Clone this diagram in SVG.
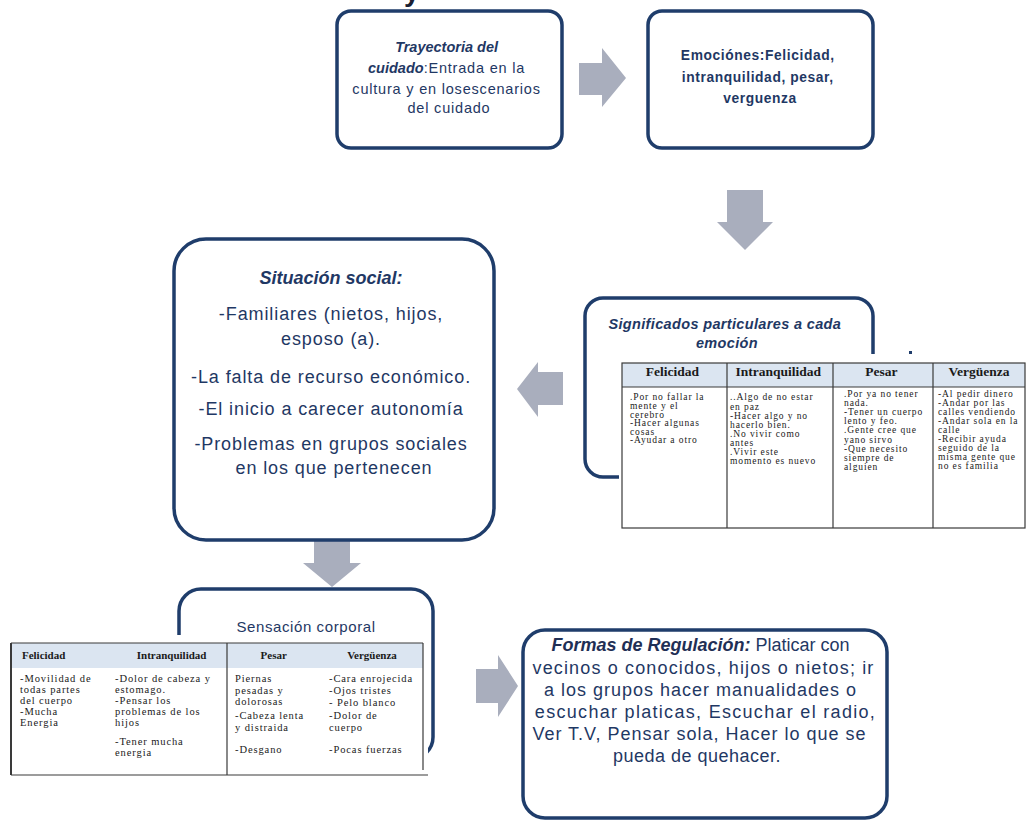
<svg xmlns="http://www.w3.org/2000/svg" width="1027" height="820" viewBox="0 0 1027 820">
  <style>
    .box { fill: #ffffff; stroke: #1f3d6b; stroke-width: 3.5; }
    .arrow { fill: #a9aebd; }
    .txt { font-family: "Liberation Sans", Arial, sans-serif; fill: #1f3864; }
    .bi { font-weight: bold; font-style: italic; letter-spacing: 0; }
    .b { font-weight: bold; }
    .tbl { fill: #ffffff; }
    .grid { stroke: #3a3a3a; stroke-width: 1.2; fill: none; }
    .head { fill: #dbe5f1; }
    .th { font-family: "Liberation Serif", "Times New Roman", serif; font-weight: bold; fill: #1a1a1a; text-anchor: middle; }
    .td { font-family: "Liberation Serif", "Times New Roman", serif; fill: #1a1a1a; }
    .tdr { font-size: 9.5px; letter-spacing: 0.9px; }
    .tdb { font-size: 10.5px; letter-spacing: 0.9px; }
  </style>

  <!-- clipped heading letter at the very top -->
  <text x="404" y="1" font-family="Liberation Sans, Arial, sans-serif" font-size="28" font-weight="bold" fill="#1a1f33">y</text>

  <!-- connectors: block arrows -->
  <g id="connectors">
    <polygon class="arrow" points="579,63 602,63 602,48 626,78 602,107 602,95 579,95"/>
    <polygon class="arrow" points="727,190 763,190 763,222 773,222 745,250 717,222 727,222"/>
    <polygon class="arrow" points="563,372 538,372 538,362 517,389 538,417 538,405 563,405"/>
    <polygon class="arrow" points="314,538 350,538 350,563 361,563 332,587 303,563 314,563"/>
    <polygon class="arrow" points="476,669 498,669 498,655 518,686 498,717 498,703 476,703"/>
  </g>

  <!-- Trayectoria del cuidado -->
  <g id="node-trayectoria">
    <rect class="box" x="337" y="11" width="225" height="137" rx="14"/>
    <text class="txt" font-size="14.5" text-anchor="middle" letter-spacing="0.8">
      <tspan x="449" y="52" class="bi">Trayectoria del</tspan>
      <tspan x="449" y="73"><tspan class="bi">cuidado</tspan>:Entrada en la</tspan>
      <tspan x="449" y="94">cultura y en losescenarios</tspan>
      <tspan x="449" y="113">del cuidado</tspan>
    </text>
  </g>

  <!-- Emociones -->
  <g id="node-emociones">
    <rect class="box" x="648" y="11" width="225" height="137" rx="14"/>
    <text class="txt b" font-size="13.8" text-anchor="middle" letter-spacing="0.6">
      <tspan x="760" y="60">Emociónes:Felicidad,</tspan>
      <tspan x="760" y="82">intranquilidad, pesar,</tspan>
      <tspan x="760" y="103">verguenza</tspan>
    </text>
  </g>

  <!-- Significados particulares a cada emoción -->
  <g id="node-significados">
    <rect class="box" x="585" y="298" width="288" height="179" rx="18"/>
    <text class="txt" font-size="14.5" text-anchor="middle" font-weight="bold" font-style="italic" letter-spacing="0.35">
      <tspan x="727" y="329">Significados particulares a cada</tspan>
      <tspan x="727" y="348">emoción</tspan>
    </text>
    <rect class="tbl" x="619" y="354" width="408" height="178"/>
    <rect x="909" y="351" width="3" height="3" fill="#1f3d6b"/>
    <rect class="head" x="622" y="363" width="403" height="24"/>
    <g class="grid">
      <rect x="622" y="363" width="403" height="165"/>
      <line x1="622" y1="387" x2="1025" y2="387"/>
      <line x1="727" y1="363" x2="727" y2="528"/>
      <line x1="833" y1="363" x2="833" y2="528"/>
      <line x1="933" y1="363" x2="933" y2="528"/>
    </g>
    <text class="th" font-size="13.5">
      <tspan x="674" y="376">Felicidad</tspan>
      <tspan x="780" y="376">Intranquilidad</tspan>
      <tspan x="883" y="376">Pesar</tspan>
      <tspan x="979" y="376">Vergüenza</tspan>
    </text>
    <text class="td tdr">
      <tspan x="630" y="400">.Por no fallar la</tspan>
      <tspan x="630" y="409">mente y el</tspan>
      <tspan x="630" y="418">cerebro</tspan>
      <tspan x="630" y="426">-Hacer algunas</tspan>
      <tspan x="630" y="435">cosas</tspan>
      <tspan x="630" y="443">-Ayudar a otro</tspan>
    </text>
    <text class="td tdr">
      <tspan x="730" y="400">..Algo de no estar</tspan>
      <tspan x="730" y="410">en paz</tspan>
      <tspan x="730" y="419">-Hacer algo y no</tspan>
      <tspan x="730" y="428">hacerlo bien.</tspan>
      <tspan x="730" y="437">.No vivir como</tspan>
      <tspan x="730" y="446">antes</tspan>
      <tspan x="730" y="455">.Vivir este</tspan>
      <tspan x="730" y="464">momento es nuevo</tspan>
    </text>
    <text class="td tdr">
      <tspan x="844" y="397">.Por ya no tener</tspan>
      <tspan x="844" y="406">nada.</tspan>
      <tspan x="844" y="415">-Tener un cuerpo</tspan>
      <tspan x="844" y="424">lento y feo.</tspan>
      <tspan x="844" y="433">.Gente cree que</tspan>
      <tspan x="844" y="443">yano sirvo</tspan>
      <tspan x="844" y="452">-Que necesito</tspan>
      <tspan x="844" y="461">siempre de</tspan>
      <tspan x="844" y="470">alguien</tspan>
    </text>
    <text class="td tdr">
      <tspan x="938" y="397">-Al pedir dinero</tspan>
      <tspan x="938" y="406">-Andar por las</tspan>
      <tspan x="938" y="415">calles vendiendo</tspan>
      <tspan x="938" y="424">-Andar sola en la</tspan>
      <tspan x="938" y="433">calle</tspan>
      <tspan x="938" y="442">-Recibir ayuda</tspan>
      <tspan x="938" y="451">seguido de la</tspan>
      <tspan x="938" y="460">misma gente que</tspan>
      <tspan x="938" y="469">no es familia</tspan>
    </text>
  </g>

  <!-- Situación social -->
  <g id="node-situacion">
    <rect class="box" x="174" y="239" width="320" height="301" rx="32"/>
    <text class="txt" font-size="18" text-anchor="middle" fill="#26395c" letter-spacing="0.9">
      <tspan x="334" y="284" class="bi">Situación social:</tspan>
      <tspan x="334" y="320">-Familiares (nietos, hijos,</tspan>
      <tspan x="334" y="345">esposo (a).</tspan>
      <tspan x="334" y="383">-La falta de recurso económico.</tspan>
      <tspan x="334" y="415">-El inicio a carecer autonomía</tspan>
      <tspan x="334" y="450">-Problemas  en grupos sociales</tspan>
      <tspan x="334" y="474">en los que pertenecen</tspan>
    </text>
  </g>

  <!-- Sensación corporal -->
  <g id="node-sensacion">
    <rect class="box" x="179" y="589" width="254" height="170" rx="22"/>
    <text class="txt" x="306" y="632" font-size="15" text-anchor="middle" fill="#3c4f75" letter-spacing="0.6">Sensación corporal</text>
    <rect class="tbl" x="8" y="635" width="420" height="143"/>
    <rect class="head" x="11" y="643" width="412" height="25"/>
    <g class="grid">
      <line x1="11" y1="643" x2="423" y2="643"/>
      <line x1="11" y1="643" x2="11" y2="775" stroke-width="2"/>
      <line x1="227" y1="643" x2="227" y2="775"/>
      <line x1="423" y1="643" x2="423" y2="770"/>
      <line x1="11" y1="775" x2="428" y2="775"/>
    </g>
    <text class="th" font-size="11">
      <tspan x="45" y="659">Felicidad</tspan>
      <tspan x="173" y="659">Intranquilidad</tspan>
      <tspan x="275" y="659">Pesar</tspan>
      <tspan x="372" y="659">Vergüenza</tspan>
    </text>
    <text class="td tdb">
      <tspan x="20" y="682">-Movilidad de</tspan>
      <tspan x="20" y="693">todas partes</tspan>
      <tspan x="20" y="704">del cuerpo</tspan>
      <tspan x="20" y="715">-Mucha</tspan>
      <tspan x="20" y="726">Energia</tspan>
    </text>
    <text class="td tdb">
      <tspan x="115" y="682">-Dolor de cabeza y</tspan>
      <tspan x="115" y="693">estomago.</tspan>
      <tspan x="115" y="704">-Pensar los</tspan>
      <tspan x="115" y="715">problemas de los</tspan>
      <tspan x="115" y="726">hijos</tspan>
      <tspan x="115" y="745">-Tener mucha</tspan>
      <tspan x="115" y="756">energia</tspan>
    </text>
    <text class="td tdb">
      <tspan x="235" y="682">Piernas</tspan>
      <tspan x="235" y="694">pesadas y</tspan>
      <tspan x="235" y="705">dolorosas</tspan>
      <tspan x="235" y="719">-Cabeza lenta</tspan>
      <tspan x="235" y="731">y distraida</tspan>
      <tspan x="235" y="753">-Desgano</tspan>
    </text>
    <text class="td tdb">
      <tspan x="329" y="682">-Cara enrojecida</tspan>
      <tspan x="329" y="694">-Ojos tristes</tspan>
      <tspan x="329" y="706">- Pelo blanco</tspan>
      <tspan x="329" y="719">-Dolor de</tspan>
      <tspan x="329" y="731">cuerpo</tspan>
      <tspan x="329" y="753">-Pocas fuerzas</tspan>
    </text>
  </g>

  <!-- Formas de Regulación -->
  <g id="node-regulacion">
    <rect class="box" x="523" y="630" width="364" height="188" rx="22"/>
    <text class="txt" font-size="18" text-anchor="middle" fill="#2c3a5c">
      <tspan x="703" y="651"><tspan class="bi" fill="#1f2f55">Formas de Regulación:</tspan> Platicar con</tspan>
      <tspan x="706" y="674" letter-spacing="1.15">vecinos o conocidos,  hijos o nietos; ir</tspan>
      <tspan x="703" y="696" letter-spacing="1.0">a los grupos hacer manualidades  o</tspan>
      <tspan x="708" y="718" letter-spacing="1.3">escuchar platicas, Escuchar el radio,</tspan>
      <tspan x="702" y="740" letter-spacing="1.0">Ver T.V, Pensar sola, Hacer lo que se</tspan>
      <tspan x="697" y="762" letter-spacing="0.5">pueda de quehacer.</tspan>
    </text>
  </g>
</svg>
